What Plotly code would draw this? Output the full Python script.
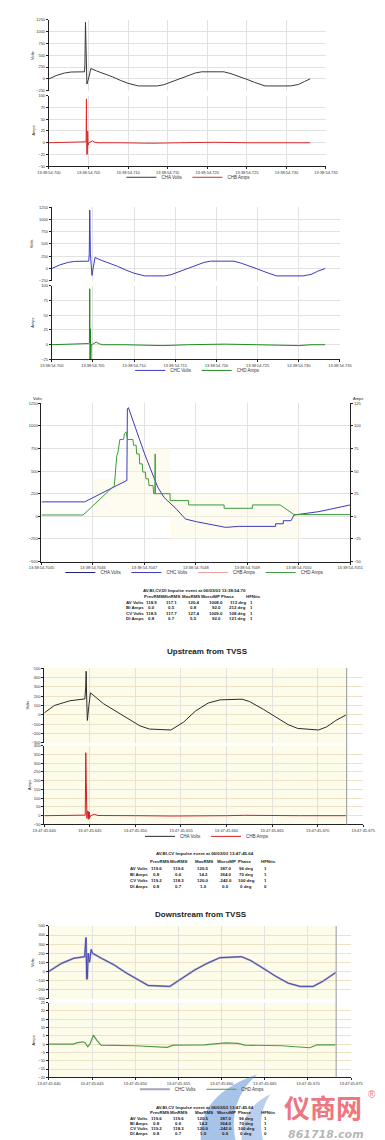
import plotly.graph_objects as go

W, H = 385, 1140

# ---------------- data ----------------
# Panel 1 : CHA Volts / CHB Amps (ms after 13:38:54.700)
p1_t = [0, 1, 2, 2.8, 4.5, 4.55, 4.62, 4.68, 4.8, 5.0, 5.3, 6, 7, 8, 9, 10, 11.3, 13.7, 14.5, 15.5,
        16.4, 17.5, 18.5, 19.3, 22.1, 23, 24, 25, 26, 27.3, 30.5, 31.5, 32.3, 33.0]
p1_volts = [0, 75, 125, 145, 150, 300, 1200, 300, -110, 0, 220, 170, 110, 45, -30, -95, -150, -150, -125, -60,
            0, 70, 125, 150, 150, 110, 55, -10, -75, -150, -150, -120, -55, 0]
p1_amps_t = [0, 3, 4.5, 4.7, 4.74, 4.78, 4.82, 4.86, 4.9, 4.95, 5.05, 5.2, 5.5, 5.8, 6.2, 9, 13, 16.5, 21, 25,
             29.5, 31.5, 33.0]
p1_amps = [0, 1, 2, 2, 93, -25, 27, -24, 25, -5, 0, 1, 4, 1, 0, 0, -1, 0, 1, 0, -1, 0, 0]

# Panel 2 : CHC Volts / CHD Amps
p2_t = [0, 1, 2, 2.8, 4.5, 4.56, 4.62, 4.7, 4.89, 5.05, 5.26, 6, 7, 8, 9, 10, 11.3, 13.7, 14.5, 15.5,
        16.4, 17.5, 18.5, 19.3, 22.1, 23, 24, 25, 26, 27.3, 30.5, 31.5, 32.3, 33.2]
p2_volts = [0, 75, 125, 145, 150, 300, 1190, 300, -140, 0, 225, 170, 110, 45, -30, -95, -150, -150, -125, -60,
            0, 70, 125, 150, 150, 110, 55, -10, -75, -150, -150, -120, -55, 0]
p2_amps_t = [0, 3, 4.5, 4.58, 4.62, 4.66, 4.7, 4.74, 4.8, 5.0, 5.4, 5.8, 6.2, 9, 13.5, 16.5, 21, 25, 30, 31.5, 33.2]
p2_amps = [0, 1, 2, 3, 95, -40, 27, -30, 0, 1, 4.5, 1.5, 0, 0, -1.5, 0, 1, 0, -1.5, 0, 0]

# Panel 3 : zoom, microseconds after 13:38:54.7045
p3_t_c = [0, 84, 166, 167, 169, 178, 190, 202, 214, 226, 238, 250, 262, 274, 280, 301, 322, 346, 358, 383,
          455, 455, 470, 470, 485, 491, 539, 600]
p3_volts_c = [160, 160, 397, 1190, 1201, 1046, 860, 667, 489, 323, 211, 148, 82, 7, -30, -59, -85, -111, -122, -111,
              -111, -82, -82, -48, -48, 15, 52, 126]
p3_t_d = [0, 81, 141.6, 142.8, 144.6, 146.4, 148.8, 152.4, 159.6, 161.4, 164.5, 167.5, 177.7, 179, 184, 185, 190,
          191, 196, 197, 202, 203, 208, 209, 217, 218, 220.5, 221, 221.5, 250, 250, 286, 286, 355, 355, 410, 410,
          464, 491, 600]
p3_amps_d = [1.5, 1.5, 34, 41.5, 56, 67, 71, 85, 85, 91.6, 93.4, 85, 85, 78.6, 78.6, 69, 69, 58, 58, 49, 49, 41.5,
             41.5, 34, 34, 25, 25, 69, 25, 25, 17.4, 17.4, 12.6, 12.6, 8.9, 8.9, 12.6, 12.6, 1.9, 1.9]
p3_haze_t = [100, 100, 168, 168, 250, 250, 100, None, 250, 250, 503, 503, 250]
p3_haze_v = [0, 415, 415, 760, 760, 0, 0, None, 250, -250, -250, 250, 250]

# Panel 4 : Upstream from TVSS (ms after 13:47:45.640)
p4_t = [0, 1.1, 2.8, 4.46, 4.55, 4.6, 4.65, 4.73, 4.9, 5.07, 6.5, 7.84, 9.2, 10.5, 11.55, 13.9, 15.3, 16.6, 18.0,
        19.3, 21.7, 22.5, 24.05, 25.4, 26.75, 27.8, 30.1, 31.0, 32.0, 33.1]
p4_volts = [20, 99, 150, 170, 300, 466, 200, -61, 100, 235, 119, 41, -44, -119, -153, -163, -78, 41, 126, 160,
            167, 143, 58, -27, -105, -146, -163, -129, -61, -3]
p4_amps_t = [0, 4.0, 4.5, 4.56, 4.6, 4.64, 4.68, 4.72, 4.76, 4.8, 4.84, 4.88, 4.92, 4.96, 5.0, 5.1, 5.5, 5.9, 10,
             14, 20, 22, 28, 31, 33.1]
p4_amps = [0, 2, 3, 360, 60, 180, -15, 25, -20, 27, -21, 22, -18, 20, -10, 0, 8, 1, 0, -2, 0, 2, 0, -2, 0]
p4_end = 33.18

# Panel 5 : Downstream from TVSS
p5_t = [0, 1.44, 2.88, 4.14, 4.3, 4.38, 4.45, 4.55, 4.7, 4.9, 5.05, 6.1, 7.55, 9.0, 10.4, 11.5, 14.0, 15.5, 16.9,
        18.3, 19.8, 22.3, 23.4, 24.8, 26.3, 27.7, 29.1, 30.6, 31.7, 33.2]
p5_volts = [0, 87, 144, 162, 373, -85, -80, 200, 100, 242, 200, 144, 71, -20, -100, -155, -165, -75, 16, 87,
            151, 162, 118, 35, -56, -129, -165, -165, -111, -13]
p5_amps_t = [0, 2.88, 3.2, 3.9, 4.2, 4.5, 4.75, 5.04, 5.15, 5.6, 6.04, 10, 12.6, 13.7, 14.4, 18, 19.8, 20.5, 21.9,
             22.7, 27, 29.1, 30.2, 30.8, 31.0, 33.2]
p5_amps = [0, 0, 0.8, 1.4, 0.8, -1.6, 0, 5, 5.4, 2, -0.6, -1, -1.6, -2, -0.6, -0.4, 0.4, 0.8, 0.4, -0.6, -1, -2,
           -2.2, -1, -0.4, -0.4]
p5_end = 33.27

# tick labels
ms_ticks = [0, 5, 10, 15, 20, 25, 30, 35]
ticks_3854 = ["13:38:54.700", "13:38:54.705", "13:38:54.710", "13:38:54.715", "13:38:54.720", "13:38:54.725",
              "13:38:54.730", "13:38:54.735"]
us_ticks = [0, 100, 200, 300, 400, 500, 600]
ticks_zoom = ["13:38:54.7045", "13:38:54.7046", "13:38:54.7047", "13:38:54.7048", "13:38:54.7049",
              "13:38:54.7050", "13:38:54.7051"]
ticks_4745 = ["13:47:45.640", "13:47:45.645", "13:47:45.650", "13:47:45.655", "13:47:45.660", "13:47:45.665",
              "13:47:45.670", "13:47:45.675"]

# tables
tbl_header = ["PrevRMS", "MinRMS", "MaxRMS", "WorstMP", "Phase", "HFNits"]
tbl_rows = ["AV Volts", "BI Amps", "CV Volts", "DI Amps"]
t1_title = "AV,BI,CV,DI Impulse event at 06/03/03 13:38:54.70"
t1_vals = [["118.9", "117.1", "120.4", "1008.0", "113 deg", "1"],
           ["0.0", "0.5", "0.8", "92.0", "212 deg", "1"],
           ["118.5", "117.7", "127.4", "1009.0", "108 deg", "1"],
           ["0.8", "0.7", "5.5", "92.0", "121 deg", "1"]]
t2_title = "AV,BI,CV Impulse event at 06/03/03 13:47:45.64"
t2_vals = [["119.6", "119.6", "120.5", "387.0", "96 deg", "1"],
           ["0.8", "0.6", "14.2", "364.0", "70 deg", "1"],
           ["119.2", "118.3", "120.0", "-242.0", "100 deg", "1"],
           ["0.8", "0.7", "1.0", "0.0", "0 deg", "0"]]


# ---------------- helpers ----------------
def xdom(l, r):
    return [l / W, r / W]


def ydom(t, b):
    return [1 - b / H, 1 - t / H]


def PX(p):
    return p / W


def PY(p):
    return 1 - p / H


FONT = "Liberation Sans, Arial, sans-serif"
tick_font = dict(family=FONT, size=4, color="#333333")


def xax(dom, anchor, rng, tv, tt, labels, line, grid="#e2e2e2"):
    return dict(domain=dom, anchor=anchor, range=rng, tickvals=tv, ticktext=tt, showticklabels=labels,
                showgrid=True, gridcolor=grid, gridwidth=0.6, zeroline=False, showline=line,
                linecolor="#222222", linewidth=1, ticks="outside" if line else "", ticklen=2,
                tickcolor="#222222", tickfont=tick_font, fixedrange=True)


def yax(dom, anchor, rng, dt, grid="#e2e2e2", **kw):
    d = dict(domain=dom, anchor=anchor, range=rng, dtick=dt, tick0=0, showgrid=True, gridcolor=grid,
             gridwidth=0.6, zeroline=False, showline=True, linecolor="#222222", linewidth=1, ticks="outside",
             ticklen=2, tickcolor="#222222", tickfont=tick_font, fixedrange=True)
    d.update(kw)
    return d


fig = go.Figure()


def line(x, y, color, name, xa, ya, legend, width=1.0, show=True):
    fig.add_trace(go.Scatter(x=x, y=y, mode="lines", line=dict(color=color, width=width), name=name,
                             xaxis=xa, yaxis=ya, legend=legend, showlegend=show, hoverinfo="skip"))


# panel 1
line(p1_t, p1_volts, "#3a3a3a", "CHA Volts", "x", "y", "legend")
line(p1_amps_t, p1_amps, "#e02828", "CHB Amps", "x2", "y2", "legend")
# panel 2
line(p2_t, p2_volts, "#3b3bc4", "CHC Volts", "x3", "y3", "legend2")
line(p2_amps_t, p2_amps, "#1f8a1f", "CHD Amps", "x4", "y4", "legend2")
# panel 3
fig.add_trace(go.Scatter(x=p3_haze_t, y=p3_haze_v, mode="lines", fill="toself", fillcolor="rgba(252,247,222,0.45)",
                         line=dict(width=0), xaxis="x5", yaxis="y5", showlegend=False, hoverinfo="skip"))
line([None], [None], "#23236e", "CHA Volts", "x5", "y5", "legend3")
line(p3_t_c, p3_volts_c, "#3b3bbd", "CHC Volts", "x5", "y5", "legend3")
line([None], [None], "#e9a0a0", "CHB Amps", "x5", "y6", "legend3")
line(p3_t_d, p3_amps_d, "#3c9a3c", "CHD Amps", "x5", "y6", "legend3")
# panel 4
line(p4_t, p4_volts, "#2c2c2c", "CHA Volts", "x6", "y7", "legend4")
line(p4_amps_t, p4_amps, "#d42020", "CHB Amps", "x7", "y8", "legend4")
# panel 5
line(p5_t, p5_volts, "#a4a4bc", "CHC Volts", "x8", "y9", "legend5", width=2.0)
line(p5_t, p5_volts, "#4a4ab4", "CHC Volts", "x8", "y9", "legend5", width=1.0, show=False)
line(p5_amps_t, p5_amps, "#4c9a4c", "CHD Amps", "x9", "y10", "legend5", width=1.2)

# panel geometry (pixels)
P1 = dict(l=30, r=328, vt=9, vb=80, at=85, ab=156)
P2 = dict(l=33, r=343, vt=197, vb=271, at=276, ab=350)
P3 = dict(l=22, r=354, t=394, b=553)
P4 = dict(l=25, r=368, vt=660, vb=735, at=738, ab=817)
P5 = dict(l=30, r=355, vt=919, vb=992, at=996, ab=1071)

yellow_grid = "#ece3c4"
layout = dict(
    xaxis=xax(xdom(P1["l"], P1["r"]), "y", [0, 35], ms_ticks, ticks_3854, False, False),
    yaxis=yax(ydom(P1["vt"], P1["vb"]), "x", [-250, 1250], 250),
    xaxis2=xax(xdom(P1["l"], P1["r"]), "y2", [0, 35], ms_ticks, ticks_3854, True, True),
    yaxis2=yax(ydom(P1["at"], P1["ab"]), "x2", [-50, 100], 25),
    xaxis3=xax(xdom(P2["l"], P2["r"]), "y3", [0, 35], ms_ticks, ticks_3854, False, False),
    yaxis3=yax(ydom(P2["vt"], P2["vb"]), "x3", [-250, 1250], 250),
    xaxis4=xax(xdom(P2["l"], P2["r"]), "y4", [0, 35], ms_ticks, ticks_3854, True, True),
    yaxis4=yax(ydom(P2["at"], P2["ab"]), "x4", [-25, 100], 25),
    xaxis5=xax(xdom(P3["l"], P3["r"]), "y5", [0, 600], us_ticks, ticks_zoom, True, True),
    yaxis5=yax(ydom(P3["t"], P3["b"]), "x5", [-500, 1250], 250),
    yaxis6=yax(ydom(P3["t"], P3["b"]), "x5", [-50, 125], 25, overlaying="y5", side="right", showgrid=False),
    xaxis6=xax(xdom(P4["l"], P4["r"]), "y7", [0, 35], ms_ticks, ticks_4745, False, False),
    yaxis7=yax(ydom(P4["vt"], P4["vb"]), "x6", [-300, 500], 100, grid=yellow_grid),
    xaxis7=xax(xdom(P4["l"], P4["r"]), "y8", [0, 35], ms_ticks, ticks_4745, True, True),
    yaxis8=yax(ydom(P4["at"], P4["ab"]), "x7", [-50, 400], 50, grid=yellow_grid),
    xaxis8=xax(xdom(P5["l"], P5["r"]), "y9", [0, 35], ms_ticks, ticks_4745, False, False),
    yaxis9=yax(ydom(P5["vt"], P5["vb"]), "x8", [-300, 500], 100, grid=yellow_grid),
    xaxis9=xax(xdom(P5["l"], P5["r"]), "y10", [0, 35], ms_ticks, ticks_4745, True, True),
    yaxis10=yax(ydom(P5["at"], P5["ab"]), "x9", [-20, 25], 5, grid=yellow_grid),
)


def leg(xc, yc):
    return dict(orientation="h", x=PX(xc), xanchor="center", y=PY(yc), yanchor="middle",
                font=dict(family=FONT, size=4.5, color="#333333"), bgcolor="rgba(0,0,0,0)",
                itemwidth=30, tracegroupgap=0)


layout.update(legend=leg(180, 167), legend2=leg(190, 361), legend3=leg(187, 564),
              legend4=leg(200, 829), legend5=leg(195, 1083))

fig.update_layout(width=W, height=H, margin=dict(l=0, r=0, t=0, b=0), paper_bgcolor="white",
                  plot_bgcolor="rgba(0,0,0,0)", showlegend=True, **layout)

# yellow backgrounds & end markers for panels 4 and 5
shapes = []
for xa, ya_v, ya_a, end, P in [("x6", "y7", "y8", p4_end, P4), ("x8", "y9", "y10", p5_end, P5)]:
    for ya in (ya_v, ya_a):
        shapes.append(dict(type="rect", xref=xa, yref=ya + " domain", x0=0, x1=end, y0=0, y1=1,
                           fillcolor="#fdfbea", line=dict(width=0), layer="below"))
    shapes.append(dict(type="line", xref=xa, yref="paper", x0=end, x1=end, y0=PY(P["ab"]), y1=PY(P["vt"]),
                       line=dict(color="#a8a8a8", width=1.2)))
# blue swoosh of watermark
shapes.append(dict(type="path", xref="paper", yref="paper",
                   path=f"M {PX(194)},{PY(1140)} Q {PX(186)},{PY(1090)} {PX(254)},{PY(1068)} "
                        f"Q {PX(220)},{PY(1096)} {PX(232)},{PY(1140)} Z",
                   fillcolor="rgba(80,135,210,0.5)", line=dict(width=0), layer="above"))
shapes.append(dict(type="path", xref="paper", yref="paper",
                   path=f"M {PX(238)},{PY(1140)} Q {PX(232)},{PY(1105)} {PX(268)},{PY(1088)} "
                        f"Q {PX(252)},{PY(1110)} {PX(262)},{PY(1140)} Z",
                   fillcolor="rgba(80,135,210,0.4)", line=dict(width=0), layer="above"))
fig.update_layout(shapes=shapes)

ann = []


def text(x, y, s, size=4.3, bold=False, anchor="center", angle=0, color="#222222", family=FONT, yanchor="middle",
         pad=1):
    ann.append(dict(x=PX(x), y=PY(y), xref="paper", yref="paper", text=f"<b>{s}</b>" if bold else s,
                    showarrow=False, xanchor=anchor, yanchor=yanchor, textangle=angle, borderpad=pad,
                    font=dict(family=family, size=size, color=color)))


# axis titles
for (x, y, s) in [(13, 45, "Volts"), (13, 120, "Amps"), (12, 234, "Volts"), (12, 313, "Amps"),
                  (8, 697, "Volts"), (9, 777, "Amps"), (13, 956, "Volts"), (13, 1034, "Amps")]:
    text(x, y, s, size=4, angle=-90)
text(18, 389, "Volts", size=4)
text(362, 389, "Amps", size=4)

# titles
text(201, 643, "Upstream from TVSS", size=8, bold=True)
text(194, 907, "Downstream from TVSS", size=8, bold=True)


def table(title, vals, tx, ty, lab_x, col_c, head_c, rows_y):
    text(tx, ty, title, size=4.4, bold=True)
    for h, c in zip(tbl_header, head_c):
        text(c, rows_y[0], h, size=4.4, bold=True)
    for r, (lab, row) in enumerate(zip(tbl_rows, vals)):
        yy = rows_y[r + 1]
        text(lab_x, yy, lab, size=4.4, bold=True, anchor="left")
        for v, c in zip(row, col_c):
            text(c, yy, v, size=4.4, bold=True)


table(t1_title, t1_vals, 187, 582, 111, [140, 162, 186, 210, 233, 248], [143, 162, 183, 204, 222, 250],
      [588, 594, 599.5, 605, 610.5])
table(t2_title, t2_vals, 198, 846, 115, [146, 169, 196, 220, 242, 263], [149, 169, 197, 221, 240, 266],
      [854, 861, 867, 873, 879])
table(t2_title, t2_vals, 198, 1101.5, 115, [146, 169, 196, 220, 242, 263], [149, 169, 197, 221, 240, 266],
      [1106.5, 1112.5, 1117, 1122.5, 1127.5])

# watermark
text(325, 1100, "仪商网", size=26, bold=True, color="rgba(232,80,92,0.8)", family="Noto Sans CJK SC", pad=0)
text(378, 1088, "®", size=10, color="rgba(232,80,92,0.8)", pad=0)
ann.append(dict(x=PX(328), y=PY(1128.5), xref="paper", yref="paper", text="<b><i>861718.com</i></b>",
                showarrow=False, xanchor="center", yanchor="middle", borderpad=0,
                font=dict(family="DejaVu Sans", size=11, color="rgba(150,150,150,0.7)")))

fig.update_layout(annotations=ann)
fig.write_html("out.html")
